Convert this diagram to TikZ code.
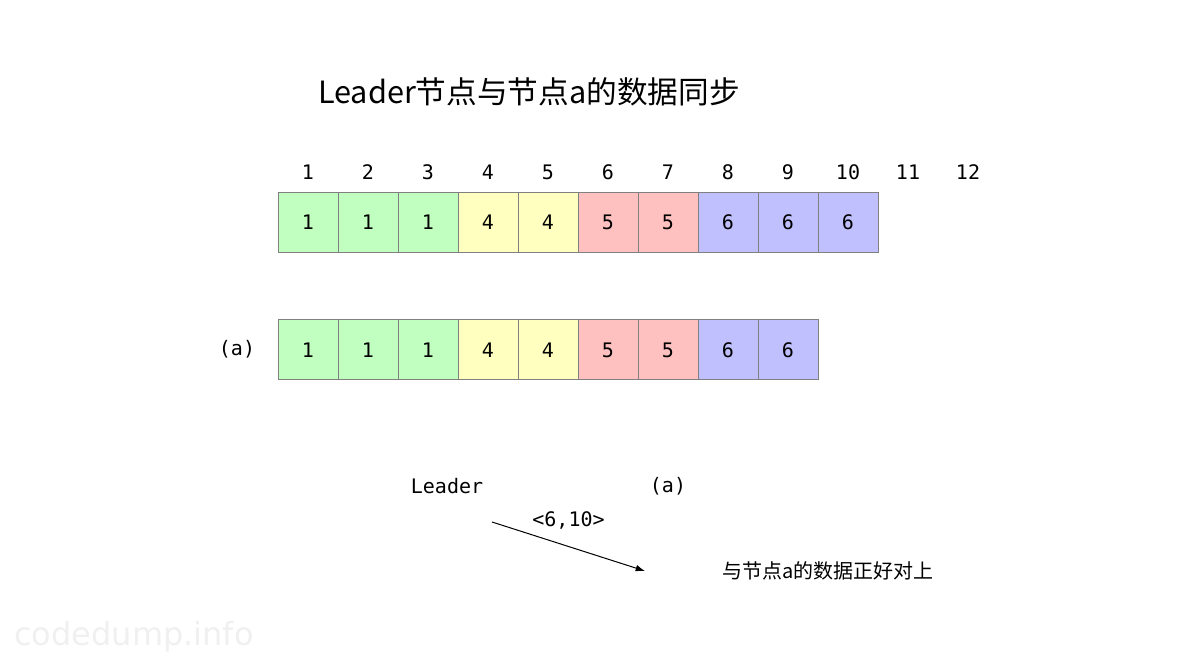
\documentclass[tikz,border=0pt]{standalone}
\usepackage{fontspec}
\usetikzlibrary{arrows.meta}
\newfontfamily\cjk{Noto Sans CJK SC}
\newfontfamily\mono{DejaVu Sans Mono}
\newfontfamily\marksans{DejaVu Sans}
\definecolor{cellgreen}{HTML}{C0FFC0}
\definecolor{cellyellow}{HTML}{FFFFC0}
\definecolor{cellred}{HTML}{FFC0C0}
\definecolor{cellblue}{HTML}{C0C0FF}
\definecolor{cellborder}{HTML}{808080}

\begin{document}
\begin{tikzpicture}[x=0.75pt,y=-0.75pt,
  cell/.style={draw=cellborder,line width=0.75pt,minimum size=45pt,inner sep=0pt,font=\mono\fontsize{15}{18}\selectfont},
  lbl/.style={inner sep=0pt,font=\mono\fontsize{15}{18}\selectfont}]
  \useasboundingbox (0,0) rectangle (1200,655);
  \node[font=\cjk\fontsize{23}{27}\selectfont] (title) at (529,92) {Leader节点与节点a的数据同步};
  % log index
  \foreach \i in {1,...,12}{\node[lbl] (idx\i) at (248+60*\i,172) {\i};}
  % leader log
  \foreach \i/\t/\c in {1/1/cellgreen,2/1/cellgreen,3/1/cellgreen,4/4/cellyellow,5/4/cellyellow,
    6/5/cellred,7/5/cellred,8/6/cellblue,9/6/cellblue,10/6/cellblue}{
    \node[cell,fill=\c] (ld\i) at (248+60*\i,222.5) {\t};}
  % log of node a
  \node[lbl] (na) at (237,349) {(a)};
  \foreach \i/\t/\c in {1/1/cellgreen,2/1/cellgreen,3/1/cellgreen,4/4/cellyellow,5/4/cellyellow,
    6/5/cellred,7/5/cellred,8/6/cellblue,9/6/cellblue}{
    \node[cell,fill=\c] (a\i) at (248+60*\i,350) {\t};}
  % message
  \node[lbl] (leader) at (447,486) {Leader};
  \node[lbl] (peer) at (668,486) {(a)};
  \coordinate (msgfrom) at (492,522);
  \coordinate (msgto) at (645,571);
  \draw[line width=0.75pt,-{Latex[length=7pt,width=5pt]}] (msgfrom) -- node[lbl,midway,yshift=19.5pt] {<6,10>} (msgto);
  \node[font=\cjk\fontsize{15}{18}\selectfont] (match) at (828,571) {与节点a的数据正好对上};
  \node[font=\marksans\fontsize{24}{28}\selectfont,text=gray!12] (mark) at (134,637) {codedump.info};
\end{tikzpicture}
\end{document}
